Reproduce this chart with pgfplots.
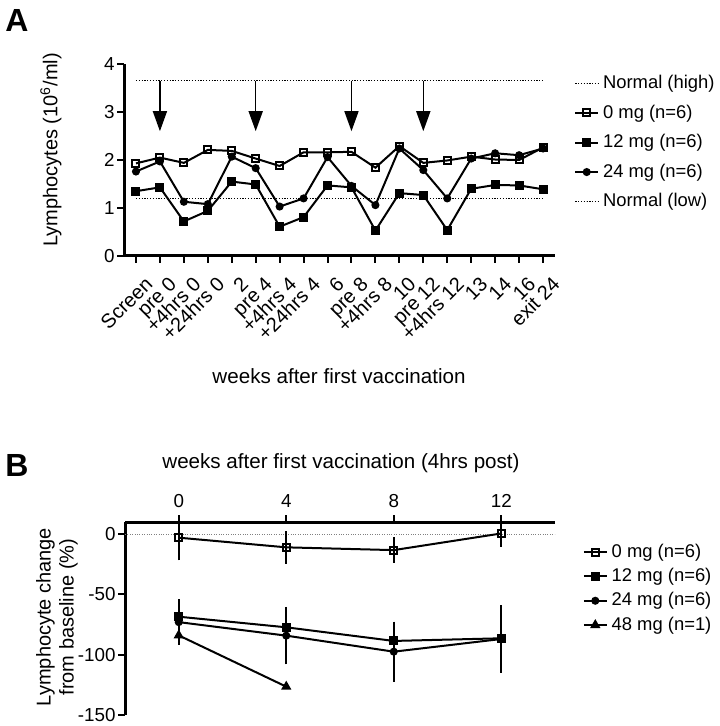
\documentclass[border=0pt]{standalone}
\usepackage{fontspec}
\setmainfont{Liberation Sans}
\usepackage{pgfplots}
\pgfplotsset{compat=1.18}
\usetikzlibrary{arrows.meta}

% 1 px of the reference = 0.5pt
\pgfplotsset{
  panel/.style={
    scale only axis,
    tick align=outside,
    axis line style={line width=1.5pt},
    major tick style={black, line width=1pt},
    major tick length=3.5pt,
    minor tick num=0,
    tick label style={font=\fontsize{9.4}{10}\selectfont},
    yticklabel style={inner sep=1pt},
    /pgf/number format/assume math mode=true,
    legend cell align=left,
    legend style={draw=none, fill=none, font=\fontsize{9.2}{11}\selectfont},
    legend image code/.code={\draw[mark repeat=2,mark phase=2] plot coordinates {(0cm,0cm)(0.2cm,0cm)(0.4cm,0cm)};},
  },
  ser/.style={black, line width=1pt, mark options={solid, line width=0.8pt}},
  osq/.style={ser, mark=square, mark size=1.75pt, mark options={fill=white}},
  fsq/.style={ser, mark=square*, mark size=1.75pt, mark options={fill=black}},
  fci/.style={ser, mark=*, mark size=1.5pt, mark options={fill=black}},
  ftr/.style={ser, mark=triangle*, mark size=2pt, mark options={fill=black}},
  norm/.style={black, line width=0.6pt, dash pattern=on 0.6pt off 0.8pt},
  arr/.style={black, line width=0.8pt, -{Triangle[width=7pt,length=10pt]}},
  ebar/.style={error bars/.cd, y dir=both, y explicit,
    error bar style={line width=1pt, black},
    error mark options={line width=1pt, black, mark size=1.75pt}},
}

\begin{document}
\begin{tikzpicture}
\path[use as bounding box] (0,0) rectangle (359.5pt,-363pt);

\node[font=\fontsize{16}{16}\selectfont\bfseries] at (8.5pt,-10pt) {A};
\node[font=\fontsize{16}{16}\selectfont\bfseries] at (8.5pt,-232.5pt) {B};

% ---------- panel A ----------
\begin{axis}[panel,
  at={(62pt,-128pt)}, anchor=south west,
  width=215.5pt, height=96pt,
  axis x line*=bottom, axis y line*=left,
  xtick pos=left, ytick pos=left,
  xmin=-0.5, xmax=17.5, ymin=0, ymax=4,
  xtick={0,...,17},
  xticklabels={Screen,pre 0,+4hrs 0,+24hrs 0,2,pre 4,+4hrs 4,+24hrs 4,6,pre 8,+4hrs 8,10,pre 12,+4hrs 12,13,14,16,exit 24},
  xticklabel style={rotate=45, anchor=north east, inner sep=1pt, yshift=-6pt, xshift=-0.5pt, font=\fontsize{10}{10}\selectfont},
  ytick={0,1,2,3,4}, yticklabels={0,1,2,3,4},
  legend style={at={(1.03,0.985)}, anchor=north west, row sep=2.6pt},
]
\addplot[norm] coordinates {(0,3.65) (17,3.65)};
\addlegendentry{Normal (high)}

\addplot[osq] coordinates {
 (0,1.93) (1,2.05) (2,1.94) (3,2.21) (4,2.19) (5,2.03) (6,1.875) (7,2.16) (8,2.16)
 (9,2.17) (10,1.84) (11,2.29) (12,1.94) (13,1.99) (14,2.07) (15,2.01) (16,2.00) (17,2.26)};
\addlegendentry{0 mg (n=6)}

\addplot[fsq] coordinates {
 (0,1.35) (1,1.43) (2,0.72) (3,0.94) (4,1.55) (5,1.49) (6,0.61) (7,0.81) (8,1.47)
 (9,1.43) (10,0.53) (11,1.31) (12,1.27) (13,0.54) (14,1.40) (15,1.48) (16,1.47) (17,1.39)};
\addlegendentry{12 mg (n=6)}

\addplot[fci] coordinates {
 (0,1.76) (1,1.97) (2,1.13) (3,1.08) (4,2.07) (5,1.83) (6,1.03) (7,1.20) (8,2.06)
 (9,1.46) (10,1.06) (11,2.24) (12,1.79) (13,1.20) (14,2.03) (15,2.14) (16,2.10) (17,2.24)};
\addlegendentry{24 mg (n=6)}

\addplot[norm] coordinates {(0,1.2) (17,1.2)};
\addlegendentry{Normal (low)}

\addplot[arr, forget plot] coordinates {(1,3.65) (1,2.6)};
\addplot[arr, forget plot] coordinates {(5,3.65) (5,2.6)};
\addplot[arr, forget plot] coordinates {(9,3.65) (9,2.6)};
\addplot[arr, forget plot] coordinates {(12,3.65) (12,2.6)};
\end{axis}

\node[rotate=90, font=\fontsize{10}{12}\selectfont] at (25.5pt,-75pt) {Lymphocytes (10\textsuperscript{6}/ml)};
\node[font=\fontsize{10.3}{12}\selectfont] at (169.5pt,-188pt) {weeks after first vaccination};

% ---------- panel B ----------
\begin{axis}[panel,
  at={(62.5pt,-357.5pt)}, anchor=south west,
  width=215pt, height=96.5pt,
  axis x line*=top, axis y line*=left,
  xtick pos=right, xticklabel pos=right, ytick pos=left,
  xmin=-2, xmax=14, ymin=-150, ymax=10,
  xtick={0,4,8,12}, xticklabels={0,4,8,12},
  ytick={0,-50,-100,-150}, yticklabels={0,-50,-100,-150},
  legend style={at={(1.05,0.93)}, anchor=north west, row sep=0pt},
]
\addplot[gray, line width=0.5pt, dash pattern=on 0.5pt off 0.7pt, forget plot] coordinates {(-2,0) (14,0)};

\addplot[osq, ebar] coordinates {
 (0,-3) +- (0,16) (4,-11) +- (0,10.5) (8,-13.3) +- (0,7.6) (12,0.5) +- (0,8.2)};
\addlegendentry{0 mg (n=6)}

\addplot[fsq, ebar] coordinates {
 (0,-68.5) +- (0,5) (4,-77.3) +- (0,5) (8,-88.6) +- (0,4.5) (12,-86.4) +- (0,5)};
\addlegendentry{12 mg (n=6)}

\addplot[fci, ebar] coordinates {
 (0,-73) +- (0,16) (4,-84.2) +- (0,21) (8,-97.5) +- (0,22) (12,-87) +- (0,25)};
\addlegendentry{24 mg (n=6)}

\addplot[ftr] coordinates {(0,-84) (4,-126.5)};
\addlegendentry{48 mg (n=1)}
\end{axis}

\node[font=\fontsize{10.3}{12}\selectfont] at (170.5pt,-231.5pt) {weeks after first vaccination (4hrs post)};
\node[rotate=90, align=center, font=\fontsize{10}{11.5}\selectfont] at (28.5pt,-308.5pt) {Lymphocyte change\\from baseline (\%)};

\end{tikzpicture}
\end{document}
